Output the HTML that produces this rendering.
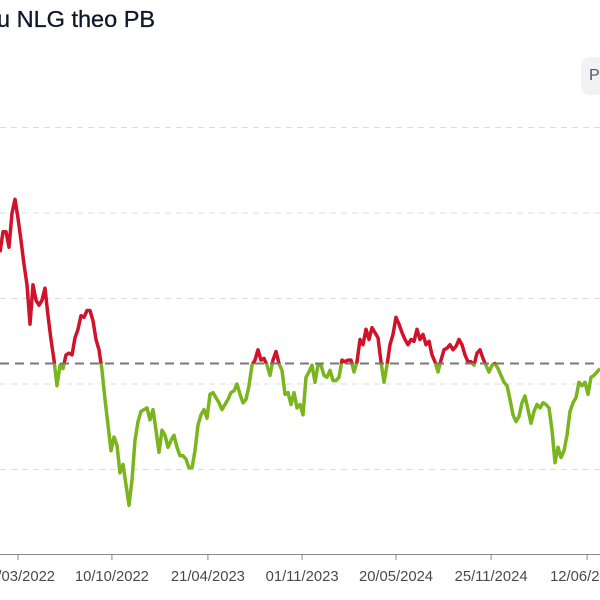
<!DOCTYPE html>
<html><head><meta charset="utf-8"><style>
html,body{margin:0;padding:0;background:#fff;width:600px;height:600px;overflow:hidden;font-family:"Liberation Sans",sans-serif}
#title{position:absolute;left:-3px;top:6px;font-size:23.5px;color:#0f172a;white-space:nowrap;-webkit-text-stroke:0.3px #0f172a}
#btn{position:absolute;left:581px;top:57px;width:40px;height:38px;border-radius:9px;background:#f1f2f4;color:#4b5563;font-size:16px;line-height:38px;padding-left:8px;box-sizing:border-box}
svg{position:absolute;left:0;top:0}
</style></head><body>
<div id="title">u NLG theo PB</div>
<div id="btn">P</div>
<svg id="chart" width="600" height="600"></svg>
<script>
const pbValues=[2.27,2.39,2.39,2.30,2.50,2.58,2.47,2.34,2.20,2.08,1.85,2.08,1.99,1.96,1.99,2.06,1.90,1.76,1.64,1.49,1.61,1.59,1.67,1.68,1.67,1.77,1.82,1.90,1.89,1.93,1.93,1.87,1.76,1.70,1.58,1.41,1.26,1.11,1.19,1.14,0.98,1.03,0.91,0.79,0.94,1.17,1.28,1.34,1.35,1.36,1.29,1.35,1.23,1.10,1.23,1.20,1.13,1.17,1.20,1.13,1.08,1.08,1.06,1.01,1.01,1.11,1.26,1.32,1.35,1.30,1.44,1.45,1.42,1.39,1.35,1.38,1.41,1.45,1.46,1.50,1.44,1.39,1.41,1.49,1.61,1.64,1.70,1.64,1.65,1.61,1.55,1.64,1.69,1.62,1.58,1.44,1.45,1.38,1.45,1.36,1.38,1.32,1.54,1.57,1.61,1.51,1.61,1.61,1.55,1.54,1.58,1.52,1.52,1.54,1.64,1.63,1.64,1.64,1.57,1.63,1.76,1.73,1.82,1.76,1.83,1.80,1.77,1.63,1.51,1.61,1.73,1.79,1.89,1.85,1.80,1.76,1.73,1.76,1.75,1.82,1.76,1.79,1.73,1.75,1.67,1.63,1.57,1.64,1.70,1.71,1.73,1.70,1.72,1.76,1.73,1.67,1.63,1.63,1.61,1.68,1.70,1.65,1.61,1.57,1.61,1.62,1.59,1.55,1.51,1.49,1.41,1.32,1.28,1.31,1.39,1.43,1.35,1.27,1.34,1.38,1.36,1.39,1.38,1.36,1.23,1.04,1.13,1.07,1.11,1.20,1.34,1.39,1.42,1.51,1.49,1.51,1.44,1.54,1.55,1.57,1.59];
const averagePB=1.62;
const gridValues=[1.0,1.5,2.0,2.5,3.0];
const tickLabels=["21/03/2022","10/10/2022","21/04/2023","01/11/2023","20/05/2024","25/11/2024","12/06/2025"];
const tickIndex=[6,37.3,69.3,100.7,132,163.7,195.7];

const NS="http://www.w3.org/2000/svg";
const svg=document.getElementById('chart');
const X0=0,X1=600,Y0=555;
const xScale=i=>X0+i*(X1-X0)/(pbValues.length-1);
const yScale=v=>Y0-(v-0.5)*171;
function mk(tag,attrs,parent){const e=document.createElementNS(NS,tag);for(const k in attrs)e.setAttribute(k,attrs[k]);(parent||svg).appendChild(e);return e;}

gridValues.forEach(v=>{
  const g=mk('line',{x1:0,x2:600,y1:yScale(v),y2:yScale(v),stroke:'#dcdcdc','stroke-width':1,'stroke-dasharray':'6 5'});
  
  
});

const defs=mk('defs',{});
const ay=yScale(averagePB);
const c1=mk('clipPath',{id:'above'},defs);mk('rect',{x:0,y:0,width:600,height:ay},c1);
const c2=mk('clipPath',{id:'below'},defs);mk('rect',{x:0,y:ay,width:600,height:600-ay},c2);

const d=pbValues.map((v,i)=>(i?'L':'M')+xScale(i).toFixed(1)+','+yScale(v).toFixed(1)).join('');
const red=mk('path',{d:d,fill:'none',stroke:'#d0122b','stroke-width':3.5,'stroke-linejoin':'round','clip-path':'url(#above)'});


const green=mk('path',{d:d,fill:'none',stroke:'#7ab51d','stroke-width':3.5,'stroke-linejoin':'round','clip-path':'url(#below)'});



const avg=mk('line',{x1:0,x2:600,y1:ay,y2:ay,stroke:'#777','stroke-width':2,'stroke-dasharray':'9 6'});



const axis=mk('line',{x1:0,x2:600,y1:554.5,y2:554.5,stroke:'#8a8a8a','stroke-width':1});


tickLabels.forEach((t,k)=>{
  const x=xScale(tickIndex[k]);
  const tk=mk('line',{x1:x,x2:x,y1:554,y2:560,stroke:'#8a8a8a','stroke-width':1});
  
  
  const tx=mk('text',{x:x,y:581,'text-anchor':'middle','font-size':14.8,fill:'#4a4a4a','font-family':'Liberation Sans, sans-serif'});
  tx.textContent=t;
  
  
});
</script>
</body></html>
